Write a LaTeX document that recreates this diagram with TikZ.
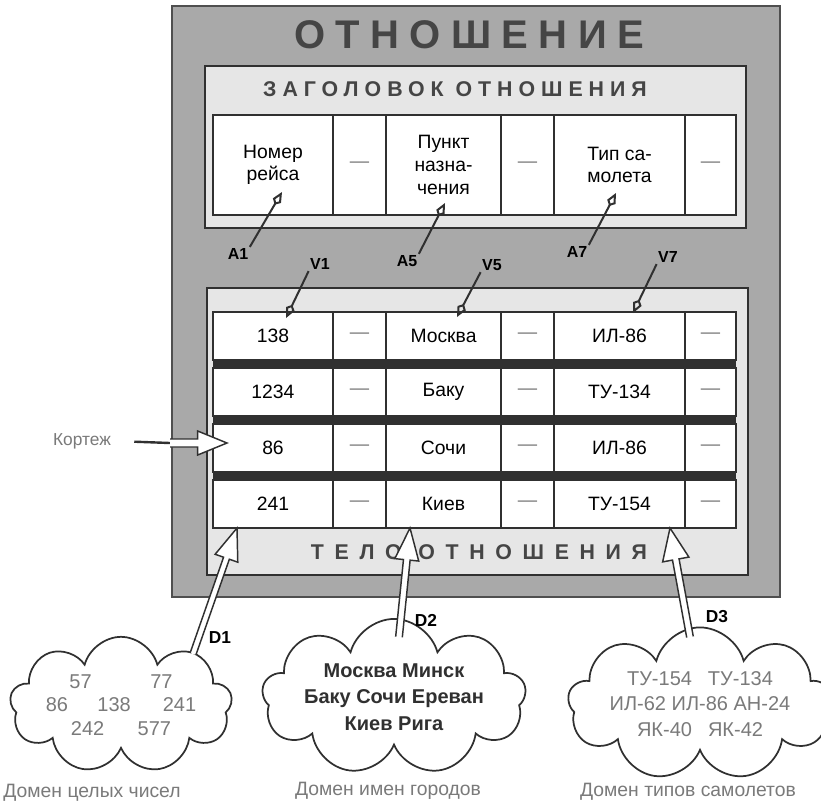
\documentclass[tikz,border=0pt]{standalone}
\usepackage{fontspec}
\setmainfont{Liberation Sans}
\newfontfamily\spacedA[LetterSpace=28]{Liberation Sans}
\newfontfamily\spacedB[LetterSpace=50]{Liberation Sans}
\newfontfamily\titlefont[LetterSpace=26]{Liberation Sans}
\usetikzlibrary{calc,shapes.symbols,arrows.meta}
\definecolor{outerg}{HTML}{A9A9A9}
\definecolor{lightg}{HTML}{E6E6E6}
\definecolor{edge}{HTML}{303030}
\definecolor{txtg}{HTML}{7A7A7A}
\newcommand\fatarrow[5]{%
  \coordinate (fah) at ($(#2)!#5!(#1)$);
  \draw[draw=edge, line width=1.1pt, fill=white, line join=miter]
    ($(#1)!#3!90:(#2)$) -- ($(fah)!#3!90:(#2)$) -- ($(fah)!#4!90:(#2)$) -- (#2)
    -- ($(fah)!#4!-90:(#2)$) -- ($(fah)!#3!-90:(#2)$) -- ($(#1)!#3!-90:(#2)$);
}
\begin{document}
\begin{tikzpicture}[x=0.75pt,y=-0.75pt,
  sbox/.style={draw=edge, line width=1.2pt},
  cell/.style={draw=edge, line width=1.1pt, fill=white, inner sep=0pt, outer sep=0pt, align=center, font=\fontsize{14.5}{17}\selectfont},
  wh/.style 2 args={minimum width=#1*0.75pt, minimum height=#2*0.75pt},
  dashcell/.style={text=txtg},
  lbl/.style={font=\bfseries\fontsize{12}{14}\selectfont, inner sep=1pt},
  ptr/.style={line width=1.5pt, draw=edge, -{Kite[open, length=11pt, width=7pt, inset=3.5pt]}},
  domcloud/.style={cloud, cloud puffs=9, cloud ignores aspect, draw=edge, line width=1.3pt, fill=white, inner sep=0pt, align=center},
  domcap/.style={text=txtg, font=\fontsize{14.5}{16}\selectfont}
]
\useasboundingbox (0,0) rectangle (821,808);
\fill[white] (0,0) rectangle (821,808);
% outer box
\draw[fill=outerg, draw=edge!85, line width=1.5pt] (172,6) rectangle (780,597);
\node[font=\titlefont\bfseries\fontsize{30}{32}\selectfont, text=edge!90] (title) at (469,35) {ОТНОШЕНИЕ};
% header box
\draw[sbox, fill=lightg] (205,66) rectangle (746,228);
\node[font=\spacedA\bfseries\fontsize{16}{18}\selectfont, text=edge!90] (hdr) at (455,89) {ЗАГОЛОВОК ОТНОШЕНИЯ};
\node[cell, wh={120}{100}] (h1) at (273,165) {Номер\\рейса};
\node[cell, wh={53}{100}, dashcell] (h2) at (359.5,165) {—};
\node[cell, wh={115}{100}] (h3) at (443.5,165) {Пункт\\назна-\\чения};
\node[cell, wh={53}{100}, dashcell] (h4) at (527.5,165) {—};
\node[cell, wh={131}{100}] (h5) at (619.5,165) {Тип са-\\молета};
\node[cell, wh={51}{100}, dashcell] (h6) at (710.5,165) {—};
% body box
\draw[sbox, fill=lightg] (207,288) rectangle (748,575);
\fill[edge] (213,360) rectangle (736,368);
\fill[edge] (213,416) rectangle (736,424);
\fill[edge] (213,472) rectangle (736,480);
\foreach \yy/\a/\b/\c [count=\r] in {336/138/Москва/ИЛ-86, 392/1234/Баку/ТУ-134, 448/86/Сочи/ИЛ-86, 504/241/Киев/ТУ-154} {
  \node[cell, wh={120}{48}] (r\r-1) at (273,\yy) {\a};
  \node[cell, wh={53}{48}, dashcell] (r\r-2) at (359.5,\yy) {—};
  \node[cell, wh={115}{48}] (r\r-3) at (443.5,\yy) {\b};
  \node[cell, wh={53}{48}, dashcell] (r\r-4) at (527.5,\yy) {—};
  \node[cell, wh={131}{48}] (r\r-5) at (619.5,\yy) {\c};
  \node[cell, wh={51}{48}, dashcell] (r\r-6) at (710.5,\yy) {—};
}
\node[font=\spacedB\bfseries\fontsize{16}{18}\selectfont, text=edge!90] (body) at (479,552) {ТЕЛО ОТНОШЕНИЯ};
% attribute / value labels
\node[lbl] (A1) at (238,254) {A1};
\node[lbl] (A5) at (407,261) {A5};
\node[lbl] (A7) at (577,252) {A7};
\node[lbl] (V1) at (320,264) {V1};
\node[lbl] (V5) at (492,265) {V5};
\node[lbl] (V7) at (668,257) {V7};
\coordinate (tA1) at (282,192);
\coordinate (tA5) at (445,203);
\coordinate (tA7) at (616,193);
\coordinate (tV1) at (286,318);
\coordinate (tV5) at (457,317);
\coordinate (tV7) at (633,313);
\draw[ptr] (A1.north east) -- (tA1);
\draw[ptr] (A5.north east) -- (tA5);
\draw[ptr] (A7.north east) -- (tA7);
\draw[ptr] (V1.south west) -- (tV1);
\draw[ptr] (V5.south west) -- (tV5);
\draw[ptr] (V7.south west) -- (tV7);
% tuple
\node[text=txtg, font=\fontsize{13}{15}\selectfont] (kort) at (82,441) {Кортеж};
\coordinate (kb) at (170,443);
\coordinate (kt) at ($(r3-1.west)+(14,-5)$);
\draw[edge, line width=1.8pt, shorten <=14pt] (kort.east) -- (kb);
\fatarrow{kb}{kt}{3pt}{9pt}{22pt}
% domains
\node[domcloud, text=txtg, font=\fontsize{15}{17.5}\selectfont, wh={218}{120}] (c1) at (121,705)
  {57\hspace{44pt}77\\86\hspace{22pt}138\hspace{24pt}241\\242\hspace{25pt}577};
\node[domcloud, text=edge, font=\bfseries\fontsize{15}{20}\selectfont, wh={262}{127}] (c2) at (394,697)
  {Москва Минск\\Баку Сочи Ереван\\Киев Рига};
\node[domcloud, text=txtg, font=\fontsize{15}{19}\selectfont, wh={238}{136}] (c3) at (700,704)
  {ТУ-154\hspace{12pt}ТУ-134\\ИЛ-62 ИЛ-86 АН-24\\ЯК-40\hspace{12pt}ЯК-42};
\node[domcap] (cap1) at (92,793) {Домен целых чисел};
\node[domcap] (cap2) at (388,791) {Домен имен городов};
\node[domcap] (cap3) at (688,792) {Домен типов самолетов};
\coordinate (tD1) at ($(r4-1.south west)+(24,0)$);
\coordinate (tD2) at ($(r4-3.south west)+(24,0)$);
\coordinate (tD3) at ($(r4-5.south west)+(116,0)$);
\coordinate (bD1) at (193,654);
\coordinate (bD2) at (399,637);
\coordinate (bD3) at (690,637);
\fatarrow{bD1}{tD1}{2.3pt}{9pt}{24pt}
\fatarrow{bD2}{tD2}{2.5pt}{9pt}{24pt}
\fatarrow{bD3}{tD3}{2.5pt}{10pt}{24pt}
\node[lbl, font=\bfseries\fontsize{13}{15}\selectfont] (D1) at (220,638) {D1};
\node[lbl, font=\bfseries\fontsize{13}{15}\selectfont] (D2) at (426,620) {D2};
\node[lbl, font=\bfseries\fontsize{13}{15}\selectfont] (D3) at (717,617) {D3};
\end{tikzpicture}
\end{document}
